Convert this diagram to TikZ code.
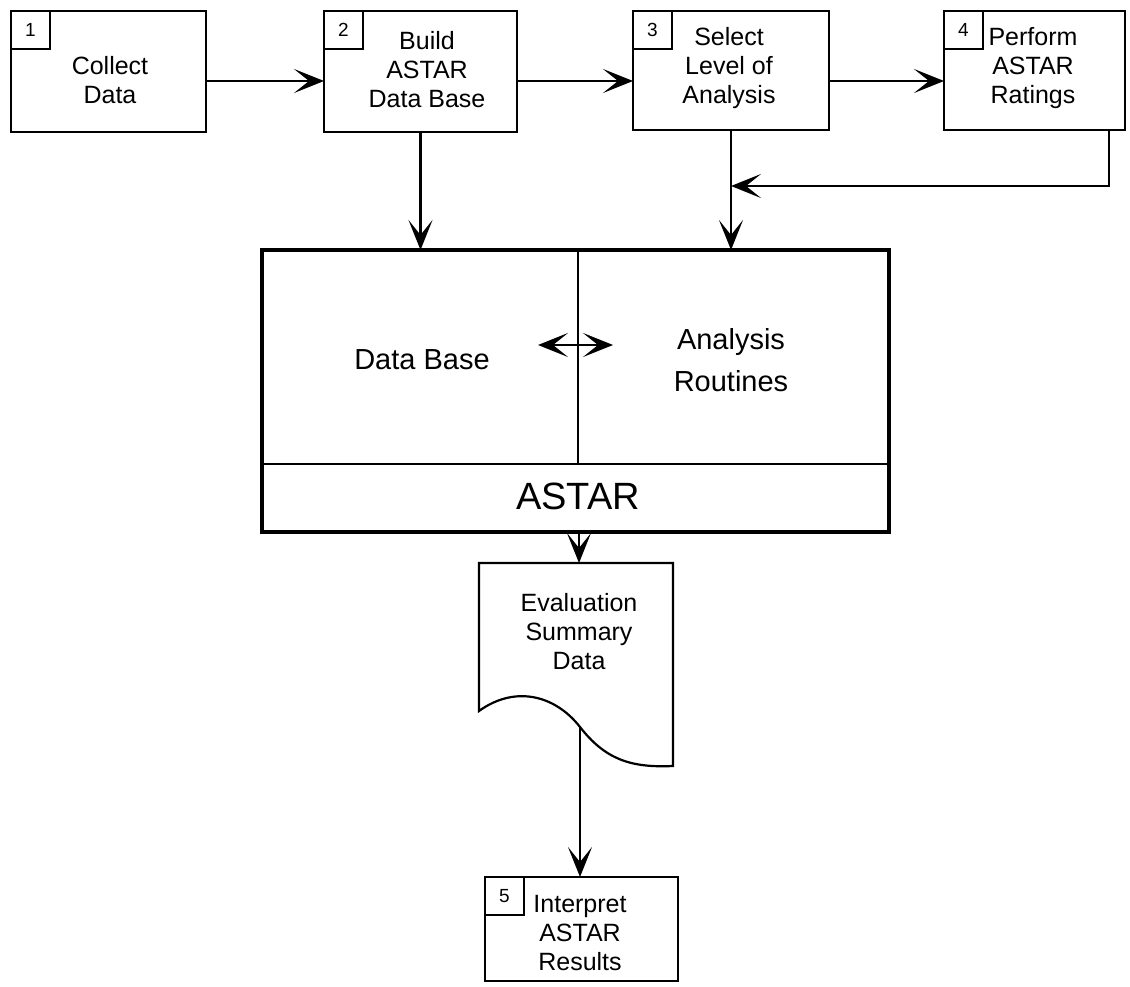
\documentclass[tikz,border=0pt]{standalone}
\usepackage{fontspec}
\setmainfont{Liberation Sans}
\usetikzlibrary{arrows.meta,calc}
\begin{document}
\begin{tikzpicture}[x=1pt,y=-1pt,
  box/.style={draw, line width=2.2pt, inner sep=0pt, outer sep=0pt},
  numbox/.style={draw, line width=1.8pt, minimum width=39pt, minimum height=38pt,
    anchor=north west, inner sep=0pt, outer sep=0pt, font=\fontsize{19}{21}\selectfont},
  lbl/.style={align=center, inner sep=0pt, font=\fontsize{25}{29}\selectfont},
  midlbl/.style={align=center, inner sep=0pt, font=\fontsize{29}{42}\selectfont},
  arr/.style={line width=2.2pt, -{Stealth[length=30pt,width=24pt,inset=15pt]}},
  dblarr/.style={line width=1.8pt,
    {Stealth[length=30pt,width=24pt,inset=15pt]}-{Stealth[length=30pt,width=24pt,inset=15pt]}},
]
\useasboundingbox (0,0) rectangle (1130,987);

% process steps
\node[box, minimum width=195pt, minimum height=121pt] (b1) at (108.5,71.5) {};
\node[box, minimum width=193pt, minimum height=121pt] (b2) at (420.5,71.5) {};
\node[box, minimum width=196pt, minimum height=119pt] (b3) at (731,70.5) {};
\node[box, minimum width=181pt, minimum height=119pt] (b4) at (1034.5,70.5) {};
\node[box, minimum width=193pt, minimum height=104pt] (b5) at (581.5,929) {};

\node[numbox] (n1) at (b1.north west) {1};
\node[numbox] (n2) at (b2.north west) {2};
\node[numbox] (n3) at (b3.north west) {3};
\node[numbox] (n4) at (b4.north west) {4};
\node[numbox] (n5) at (b5.north west) {5};

\node[lbl] (t1) at (110,80) {Collect\\Data};
\node[lbl] (t2) at (427,70) {Build\\ASTAR\\Data Base};
\node[lbl] (t3) at (729,68) {Select\\Level of\\Analysis};
\node[lbl] (t4) at (1033,68) {Perform\\ASTAR\\Ratings};
\node[lbl] (t5) at (580,933) {Interpret\\ASTAR\\Results};

% ASTAR system block
\node[draw, line width=3.8pt, inner sep=0pt, outer sep=0pt,
  minimum width=627pt, minimum height=282pt] (ast) at (575.5,391) {};
\coordinate (hdiv) at (0,464);
\coordinate (vdiv) at (578,464);
\draw[line width=1.8pt] (ast.west |- hdiv) -- (ast.east |- hdiv);
\draw[line width=1.5pt] (ast.north -| vdiv) -- (vdiv);
\node[midlbl] (db) at (422,360) {Data Base};
\node[midlbl] (ar) at (731,360) {Analysis\\Routines};
\node[inner sep=0pt, font=\fontsize{38}{40}\selectfont] (astl) at (578,496) {ASTAR};
\coordinate (dl) at (538,345);
\coordinate (dr) at (613,345);
\draw[dblarr] (dl) -- (dr);

% report document
\coordinate (doctop) at (579,563);
\coordinate (docwave) at (580,727);
\draw[line width=2.2pt, line join=miter]
  (479,711) -- (479,563) -- (673,563) -- (673,766)
  .. controls (630,768) and (605,759) .. (docwave)
  .. controls (555,695) and (515,685) .. (479,711) -- cycle;
\node[lbl] (doc) at (579,631.5) {Evaluation\\Summary\\Data};

% connectors
\coordinate (flow) at (0,81);
\draw[arr] (b1.east |- flow) -- (b2.west |- flow);
\draw[arr] (b2.east |- flow) -- (b3.west |- flow);
\draw[arr] (b3.east |- flow) -- (b4.west |- flow);
\draw[arr] (b2.south) -- (b2.south |- ast.north);
\draw[arr] (b3.south) -- (b3.south |- ast.north);
\coordinate (j4) at (1109,186);
\draw[arr] (b4.south -| j4) -- (j4) -- (b3.south |- j4);
\draw[arr] (ast.south -| doctop) -- (doctop);
\draw[arr] (docwave) -- (docwave |- b5.north);
\end{tikzpicture}
\end{document}
